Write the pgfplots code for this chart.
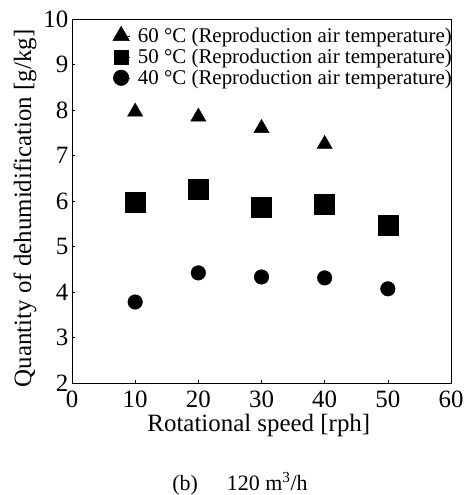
\documentclass[border=0pt]{standalone}
\usepackage{pgfplots}
\pgfplotsset{compat=1.18}
\usepackage{fontspec}
\setmainfont{Liberation Serif}
\begin{document}
\begin{tikzpicture}
\useasboundingbox (-72bp,-112bp) rectangle (398bp,383bp);
\begin{axis}[
  at={(0,0)}, anchor=south west,
  scale only axis, width=379bp, height=364bp,
  xmin=0, xmax=60, ymin=2, ymax=10,
  xtick={0,10,...,60}, ytick={2,3,...,10},
  tick align=inside, major tick length=3bp,
  xtick pos=bottom, ytick pos=left,
  axis line style={line width=0.8bp},
  every tick/.style={black, line width=0.6bp},
  /pgf/number format/assume math mode=true,
  tick label style={font=\fontsize{25}{30}\selectfont},
  xticklabel style={inner sep=0pt, yshift=-8bp},
  yticklabel style={inner sep=0pt, xshift=-3.5bp},
  xlabel={Rotational speed [rph]},
  ylabel={Quantity of dehumidification [g/kg]},
  label style={font=\fontsize{25}{30}\selectfont},
  xlabel style={at={(rel axis cs:0.493,-0.133)}, anchor=base, inner sep=0pt},
  ylabel style={at={(rel axis cs:-0.108,0.48)}, anchor=base},
  legend style={draw=none, fill=none, at={(rel axis cs:1,1)}, anchor=north east,
    xshift=4bp, yshift=-5bp, font=\fontsize{21}{24}\selectfont,
    nodes={inner sep=0pt}, row sep=5bp, column sep=8bp},
  legend cell align=left,
]
\addlegendimage{draw=none, mark=triangle*, mark size=9.6bp, mark options={draw=black, fill=black}}
\addlegendentry{60 °C (Reproduction air temperature)}
\addlegendimage{draw=none, mark=square*, mark size=7bp, mark options={draw=black, fill=black}}
\addlegendentry{50 °C (Reproduction air temperature)}
\addlegendimage{draw=none, mark=*, mark size=7.8bp, mark options={draw=black, fill=black}}
\addlegendentry{40 °C (Reproduction air temperature)}

\addplot[only marks, mark=triangle*, mark size=8.8bp, black, forget plot] coordinates {
  (10,7.96) (20,7.85) (30,7.60) (40,7.25)};
\addplot[only marks, mark=square*, mark size=10bp, black, forget plot] coordinates {
  (10,5.98) (20,6.26) (30,5.87) (40,5.93) (50,5.47)};
\addplot[only marks, mark=*, mark size=7.3bp, black, forget plot] coordinates {
  (10,3.78) (20,4.42) (30,4.33) (40,4.31) (50,4.07)};
\end{axis}
\node[anchor=base, font=\fontsize{22}{26}\selectfont] at (168bp,-107bp) {(b)\hspace{29bp}120 m\textsuperscript{3}/h};
\end{tikzpicture}
\end{document}
